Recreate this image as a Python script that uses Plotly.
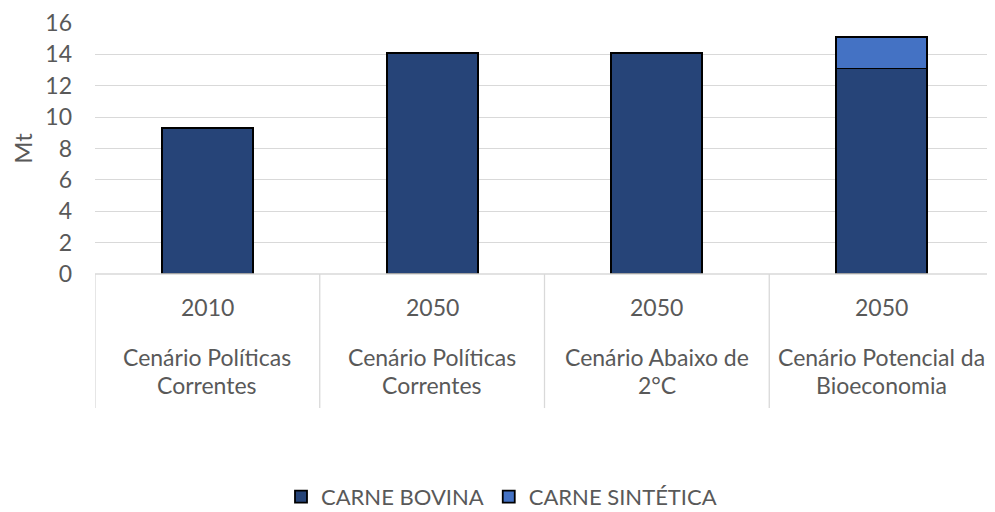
import plotly.graph_objects as go

years = ["2010", "2050", "2050", "2050"]
scenario_line1 = ["Cenário Políticas", "Cenário Políticas", "Cenário Abaixo de", "Cenário Potencial da"]
scenario_line2 = ["Correntes", "Correntes", "2°C", "Bioeconomia"]
categories = ["c0", "c1", "c2", "c3"]
carne_bovina = [9.3, 14.1, 14.1, 13.1]
carne_sintetica = [0, 0, 0, 2.0]
y_ticks = [0, 2, 4, 6, 8, 10, 12, 14, 16]

FONT = "Lato"
GRAY = "#595959"

fig = go.Figure()
fig.add_trace(go.Bar(x=categories, y=carne_bovina, name="CARNE BOVINA",
                     marker=dict(color="#264478", line=dict(color="black", width=1.8))))
fig.add_trace(go.Bar(x=categories, y=carne_sintetica, name="CARNE SINTÉTICA",
                     marker=dict(color="#4472C4", line=dict(color="black", width=1.8))))

ann = []
for i, c in enumerate(categories):
    ann.append(dict(x=c, y=-0.1315, xref="x", yref="paper", text=years[i], showarrow=False,
                    yanchor="middle", font=dict(size=23, color=GRAY, family=FONT)))
    ann.append(dict(x=c, y=-0.331, xref="x", yref="paper", text=scenario_line1[i], showarrow=False,
                    yanchor="middle", font=dict(size=23, color=GRAY, family=FONT)))
    ann.append(dict(x=c, y=-0.442, xref="x", yref="paper", text=scenario_line2[i], showarrow=False,
                    yanchor="middle", font=dict(size=23, color=GRAY, family=FONT)))

shapes = []
for k in range(len(categories) + 1):
    shapes.append(dict(type="line", xref="x", yref="paper", x0=k - 0.5, x1=k - 0.5,
                       y0=0, y1=-0.534, line=dict(color="#d9d9d9", width=1.3)))
shapes.append(dict(type="line", xref="paper", yref="paper", x0=0, x1=1, y0=0, y1=0,
                   line=dict(color="#d9d9d9", width=1.3)))

fig.update_layout(
    barmode="stack",
    bargap=0.595,
    width=987, height=504,
    margin=dict(l=87, r=1, t=15, b=238, autoexpand=False),
    plot_bgcolor="white", paper_bgcolor="white",
    font=dict(family=FONT, color=GRAY, size=18),
    xaxis=dict(showticklabels=False, showgrid=False, zeroline=False, showline=False,
               range=[-0.5, 3.5]),
    yaxis=dict(range=[0, 16], tickvals=y_ticks, showgrid=True, gridcolor="#d9d9d9",
               gridwidth=1.3, zeroline=False, showline=False, ticks="",
               ticklabelstandoff=22, automargin=False,
               tickfont=dict(size=23, color=GRAY, family=FONT),
               title=dict(text="Mt", font=dict(size=24, color=GRAY, family=FONT), standoff=14)),
    legend=dict(orientation="h", xref="container", yref="container", x=0.5, y=0.03,
                xanchor="center", yanchor="middle",
                font=dict(size=22, color=GRAY, family=FONT), itemwidth=30,
                traceorder="normal"),
    annotations=ann,
    shapes=shapes,
)

fig.write_html("out.html")
